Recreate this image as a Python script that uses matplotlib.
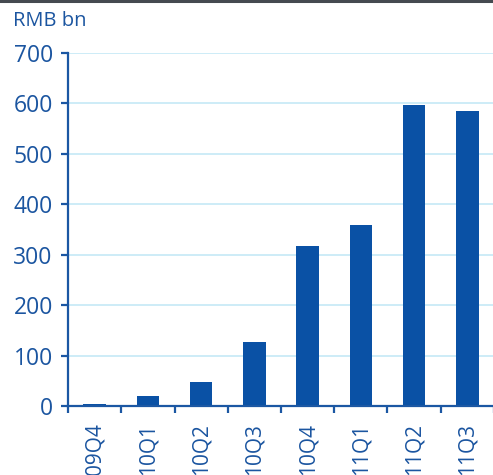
import matplotlib
matplotlib.use("Agg")
import matplotlib.pyplot as plt
from matplotlib.lines import Line2D
import numpy as np

# quarterly amounts, RMB bn
quarters = ["09Q4", "10Q1", "10Q2", "10Q3", "10Q4", "11Q1", "11Q2", "11Q3"]
amounts = [4, 20, 48, 127, 317, 359, 597, 585]
y_ticks = [0, 100, 200, 300, 400, 500, 600, 700]

bar_color = "#0a51a5"
axis_color = "#1b57a3"
grid_color = "#c9ebf7"
text_color = "#1b55a0"

plt.rcParams["font.family"] = ["Open Sans", "DejaVu Sans"]

fig = plt.figure(figsize=(4.93, 4.75), dpi=100)
ax = fig.add_axes([0.138, 0.1453, 0.864, 0.7431])

x = np.arange(len(quarters))
ax.bar(x, amounts, width=0.42, color=bar_color, zorder=3)

ax.set_xlim(-0.5, len(quarters) - 0.5)
ax.set_ylim(0, 700)
ax.set_yticks(y_ticks)
ax.set_yticklabels([str(v) for v in y_ticks])
ax.yaxis.grid(True, color=grid_color, linewidth=1.3, zorder=0)

# labels at bar centres, tick marks between bars
ax.set_xticks(x)
ax.set_xticklabels(quarters, rotation=90, va="top", ha="center")
ax.set_xticks(np.arange(-0.5, len(quarters)), minor=True)
ax.tick_params(axis="x", which="major", length=0, pad=12, labelsize=15,
               labelcolor=text_color)
ax.tick_params(axis="x", which="minor", length=5, width=1.6, color=axis_color,
               direction="out")
ax.tick_params(axis="y", length=5, width=1.6, color=axis_color, pad=6,
               labelsize=16.5, labelcolor=text_color)

for side in ["top", "right"]:
    ax.spines[side].set_visible(False)
for side in ["left", "bottom"]:
    ax.spines[side].set_color(axis_color)
    ax.spines[side].set_linewidth(1.6)
ax.spines["bottom"].set_zorder(4)

fig.text(0.026, 0.955, "RMB bn", color=text_color, fontsize=14.5,
         ha="left", va="center")

# dark rule along the top edge
fig.add_artist(Line2D([0, 1], [0.997, 0.997], transform=fig.transFigure,
                      color="#454a50", linewidth=2.2))

fig.savefig("out.png", dpi=100)
